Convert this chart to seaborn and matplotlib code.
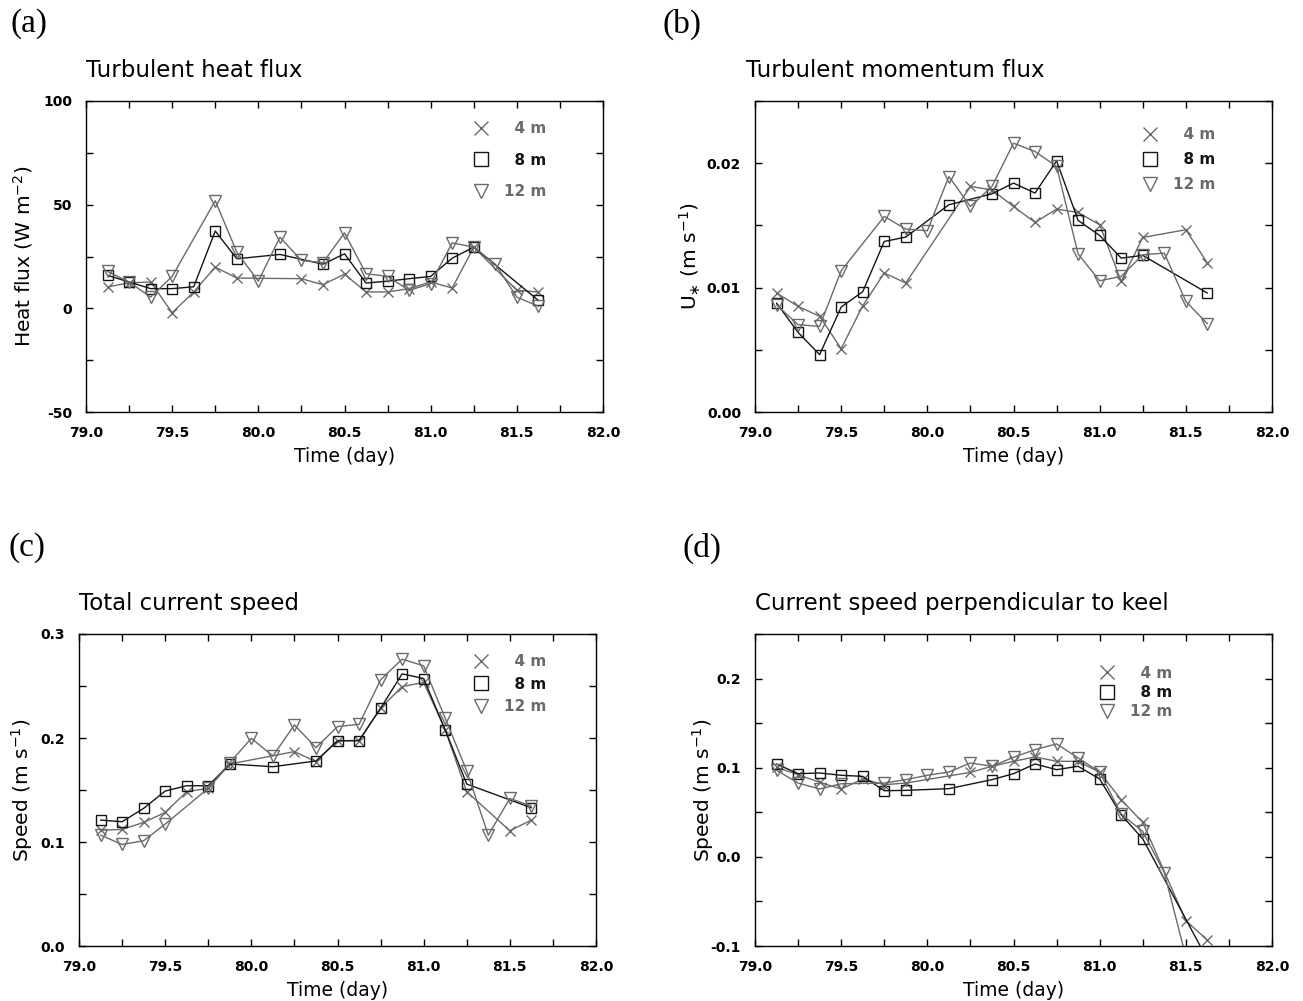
import numpy as np
import pandas as pd
import matplotlib
matplotlib.use("Agg")
import matplotlib.pyplot as plt
from matplotlib.lines import Line2D
from matplotlib.ticker import MultipleLocator, FormatStrFormatter
import seaborn as sns

nan = np.nan

# Sampling times (day of year), every 3 hours
time = [79.125, 79.25, 79.375, 79.5, 79.625, 79.75, 79.875, 80.0, 80.125,
        80.25, 80.375, 80.5, 80.625, 80.75, 80.875, 81.0, 81.125, 81.25,
        81.375, 81.5, 81.625]

depths = ["4 m", "8 m", "12 m"]

# (a) turbulent heat flux, W m-2
heat_4m = [10.3, 12.3, 12.7, -2.1, 7.9, 19.9, 14.6, nan, nan, 14.3, 11.4,
           16.5, 7.9, 7.9, 9.5, 12.7, 9.8, 29.5, nan, 8.7, 7.9]
heat_8m = [15.9, 12.7, 9.5, 9.5, 10.4, 37.3, 23.9, nan, 26.0, nan, 21.3,
           26.3, 12.2, 13.1, 14.3, 15.4, 24.2, 29.5, nan, nan, 3.8]
heat_12m = [17.8, 12.7, 5.4, 15.4, nan, 51.9, 27.1, 13.1, 34.3, 23.1, 22.0,
            36.4, 16.7, 15.4, 8.7, 11.9, 31.6, 29.5, 21.3, 5.4, 1.0]

# (b) friction velocity u*, m s-1
ustar_4m = [0.00956, 0.00849, 0.00769, 0.00509, 0.00854, 0.01117, 0.01037,
            nan, nan, 0.01813, 0.01786, 0.01652, 0.01524, 0.01631, 0.01604,
            0.01505, 0.0105, 0.01403, nan, 0.01465, 0.01197]
ustar_8m = [0.00876, 0.0064, 0.00461, 0.00844, 0.00967, 0.01371, 0.01406,
            nan, 0.01666, nan, 0.01754, 0.0184, 0.0176, 0.02019, 0.0154,
            0.01419, 0.01237, 0.01259, nan, nan, 0.00956]
ustar_12m = [0.00862, 0.00702, 0.00688, 0.01135, nan, 0.01572, 0.0147,
             0.01457, 0.01893, 0.01652, 0.01813, 0.02161, 0.02094, 0.01974,
             0.0127, 0.01055, 0.0109, 0.01264, 0.01277, 0.00889, 0.0071]

# (c) total current speed, m s-1
speed_4m = [0.1114, 0.1121, 0.1188, 0.1284, 0.1484, 0.1516, 0.175, nan, nan,
            0.1869, 0.1773, 0.1975, 0.1975, 0.2286, 0.2495, 0.2534, 0.2078,
            0.1484, nan, 0.1108, 0.1211]
speed_8m = [0.1211, 0.1195, 0.1323, 0.149, 0.1541, 0.1541, 0.175, nan,
            0.1724, nan, 0.1779, 0.1972, 0.1975, 0.2286, 0.2617, 0.2572,
            0.2078, 0.1557, nan, nan, 0.1329]
speed_12m = [0.1066, 0.0976, 0.1012, 0.1172, nan, 0.1516, 0.1763, 0.1997,
             0.1827, 0.2126, 0.1907, 0.211, 0.2132, 0.2559, 0.2758, 0.2694,
             0.219, 0.1683, 0.1066, 0.1419, 0.1345]

# (d) current speed perpendicular to the keel, m s-1
perp_4m = [0.1004, 0.0922, 0.0836, 0.0761, 0.0873, 0.081, 0.0828, nan, nan,
           0.0948, 0.1016, 0.1072, 0.1121, 0.1072, 0.1072, 0.0948, 0.0641,
           0.0386, nan, -0.0716, -0.0933]
perp_8m = [0.1042, 0.0933, 0.0941, 0.0915, 0.0903, 0.0742, 0.0746, nan,
           0.0765, nan, 0.0866, 0.0933, 0.1042, 0.0978, 0.1016, 0.0873,
           0.0472, 0.0202, nan, nan, -0.115]
perp_12m = [0.0971, 0.0828, 0.0761, 0.082, nan, 0.0828, 0.0866, 0.0915,
            0.0952, 0.1053, 0.1016, 0.1117, 0.1203, 0.1267, 0.111, 0.0952,
            0.048, 0.0285, -0.0176, -0.112, -0.15]

colors = {"4 m": "#6a6a6a", "8 m": "#151515", "12 m": "#6a6a6a"}
markers = {"4 m": "x", "8 m": "s", "12 m": "v"}

sns.set_style("ticks")
plt.rcParams["font.family"] = ["DejaVu Sans"]
plt.rcParams["mathtext.fontset"] = "dejavusans"
plt.rcParams["axes.unicode_minus"] = False
for key in ("text.color", "axes.labelcolor", "xtick.color", "ytick.color",
            "axes.edgecolor"):
    plt.rcParams[key] = "black"

W, H = 1303, 1001
fig = plt.figure(figsize=(W / 100, H / 100), dpi=100)


def px_axes(left, right, top, bottom):
    return fig.add_axes([left / W, 1 - bottom / H, (right - left) / W,
                         (bottom - top) / H])


def long_form(series):
    frames = []
    for name, vals in zip(depths, series):
        d = pd.DataFrame({"time": time, "value": vals, "depth": name})
        frames.append(d.dropna())
    return pd.concat(frames, ignore_index=True)


panels = [
    dict(series=(heat_4m, heat_8m, heat_12m), box=(86, 603, 101, 412),
         title="Turbulent heat flux", title_x=0.0,
         ylabel=r"Heat flux (W m$^{-2}$)", ylabel_x=-0.122,
         ylim=(-50, 100), major=50, minor=25, fmt="%d", letter="(a)",
         letter_xy=(10, 24), leg=(0.749, 0.936, 1.09)),
    dict(series=(ustar_4m, ustar_8m, ustar_12m), box=(755, 1272, 101, 412),
         title="Turbulent momentum flux", title_x=-0.017,
         ylabel=r"U$_{\ast}$ (m s$^{-1}$)", ylabel_x=-0.124,
         ylim=(0, 0.025), major=0.01, minor=0.005, fmt="%.2f", letter="(b)",
         letter_xy=(663, 24), leg=(0.749, 0.916, 0.66)),
    dict(series=(speed_4m, speed_8m, speed_12m), box=(79, 596, 634, 946),
         title="Total current speed", title_x=0.0,
         ylabel=r"Speed (m s$^{-1}$)", ylabel_x=-0.110,
         ylim=(0, 0.3), major=0.1, minor=0.05, fmt="%.1f", letter="(c)",
         letter_xy=(8, 548), leg=(0.762, 0.936, 0.50)),
    dict(series=(perp_4m, perp_8m, perp_12m), box=(755, 1272, 634, 946),
         title="Current speed perpendicular to keel", title_x=0.0,
         ylabel=r"Speed (m s$^{-1}$)", ylabel_x=-0.101,
         ylim=(-0.1, 0.25), major=0.1, minor=0.05, fmt="%.1f", letter="(d)",
         letter_xy=(682, 548), leg=(0.666, 0.898, 0.27)),
]

for p in panels:
    ax = px_axes(*p["box"])
    df = long_form(p["series"])
    sns.lineplot(data=df, x="time", y="value", hue="depth", hue_order=depths,
                 palette=colors, estimator=None, sort=True, legend=False,
                 marker="o", linewidth=1.0, ax=ax)
    for line, name in zip(ax.lines, depths):
        line.set_marker(markers[name])
        line.set_markersize(7.5 if name != "12 m" else 8)
        line.set_markeredgewidth(1.0)
        line.set_markerfacecolor("none")
        line.set_markeredgecolor(colors[name])

    ax.set_xlim(79, 82)
    ax.set_ylim(*p["ylim"])
    ax.xaxis.set_major_locator(MultipleLocator(0.5))
    ax.xaxis.set_minor_locator(MultipleLocator(0.25))
    ax.xaxis.set_major_formatter(FormatStrFormatter("%.1f"))
    ax.yaxis.set_major_locator(MultipleLocator(p["major"]))
    ax.yaxis.set_minor_locator(MultipleLocator(p["minor"]))
    ax.yaxis.set_major_formatter(FormatStrFormatter(p["fmt"]))
    ax.tick_params(which="both", direction="in", top=True, right=True,
                   length=5, width=1.0, color="black")
    ax.tick_params(which="major", pad=10, labelsize=10)
    for lab in ax.get_xticklabels() + ax.get_yticklabels():
        lab.set_fontweight("bold")
    for sp in ax.spines.values():
        sp.set_linewidth(1.0)
        sp.set_color("black")

    ax.set_xlabel("Time (day)", fontsize=13.5, labelpad=5)
    ax.set_ylabel(p["ylabel"], fontsize=14.5, va="center")
    ax.yaxis.set_label_coords(p["ylabel_x"], 0.5)
    ax.set_title(p["title"], loc="left", fontsize=16.5, pad=17,
                 x=p["title_x"])

    handles = [Line2D([], [], ls="none", marker=markers[n],
                      markeredgecolor=colors[n], markerfacecolor="none",
                      markersize=10, markeredgewidth=1.0) for n in depths]
    labels = ["  4 m", "  8 m", "12 m"]
    lx, ly, lsp = p["leg"]
    leg = ax.legend(handles, labels, loc="upper left",
                    bbox_to_anchor=(lx, ly), frameon=False, borderpad=0,
                    borderaxespad=0, handlelength=1.0, handletextpad=1.0,
                    labelspacing=lsp, prop={"weight": "bold", "size": 11})
    for txt, n in zip(leg.get_texts(), depths):
        txt.set_color(colors[n])

    lx_px, ly_px = p["letter_xy"]
    fig.text(lx_px / W, 1 - ly_px / H, p["letter"], fontsize=24,
             family="Liberation Serif", ha="left", va="center")

fig.savefig("out.png", dpi=100, facecolor="white")
